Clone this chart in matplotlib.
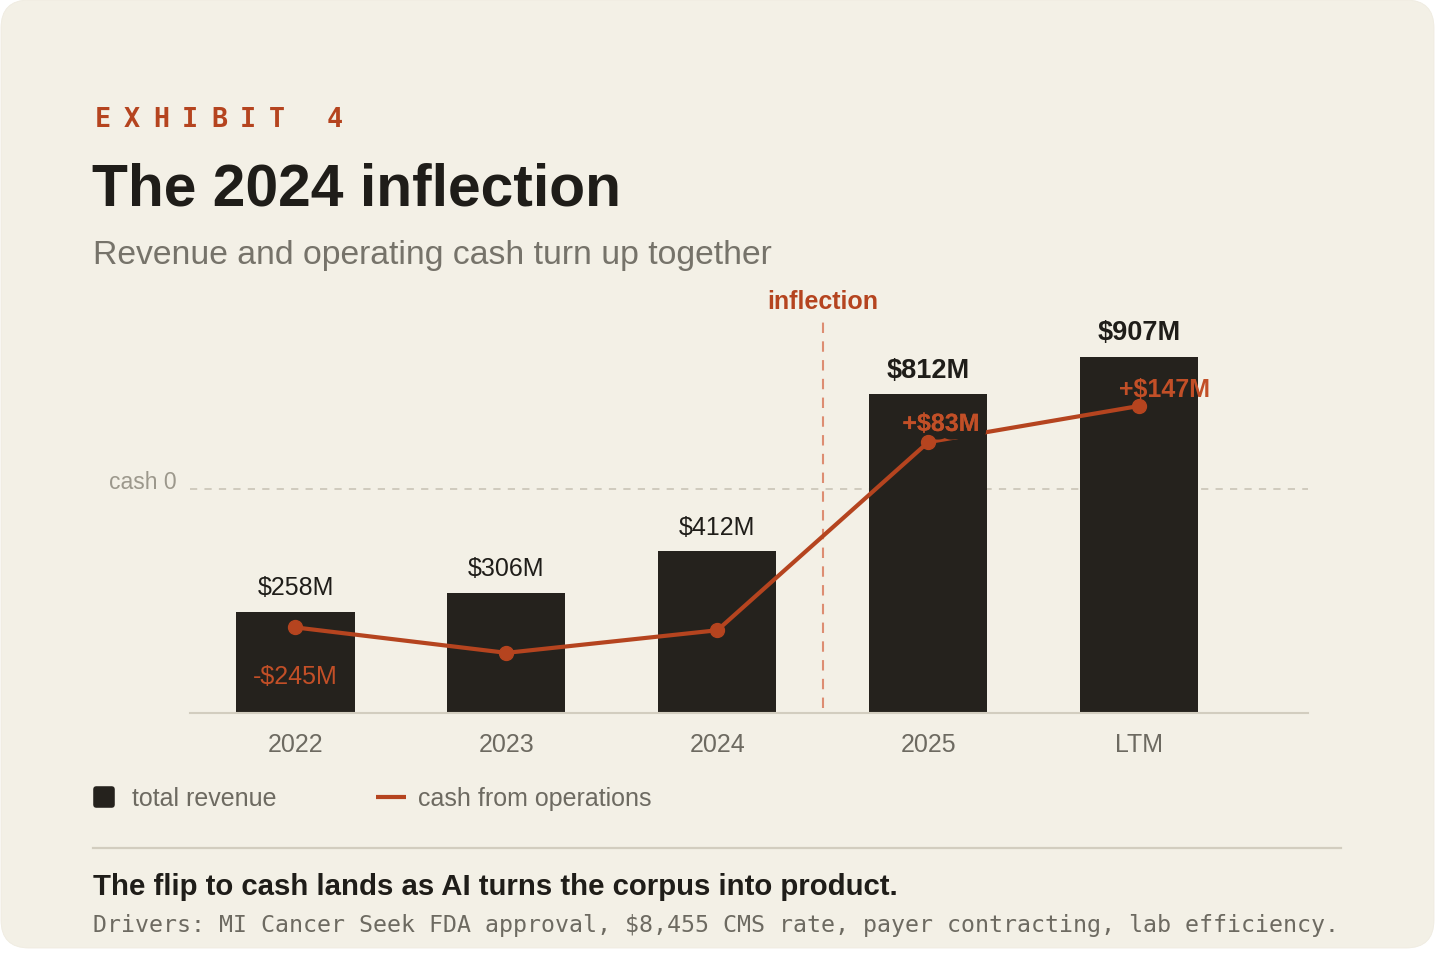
"""
Exhibit 4: revenue bars with operating cash line on a second scale.
"""
import matplotlib
matplotlib.use('Agg')
import matplotlib.pyplot as plt
from matplotlib.patches import FancyBboxPatch
from matplotlib.lines import Line2D
from matplotlib.markers import MarkerStyle
from matplotlib.transforms import blended_transform_factory
import matplotlib.patheffects as pe


###########  data  ###########

periods = ['2022', '2023', '2024', '2025', 'LTM']
revenue = [258, 306, 412, 812, 907]          # $M
cash_ops = [-245, -290, -250, 83, 147]       # $M, 2023/2024
revenue_labels = ['$258M', '$306M', '$412M', '$812M', '$907M']
cash_labels = ['-$245M', None, None, '+$83M', '+$147M']

###########  style  ###########

W, H = 1456, 971
BG = '#f3f0e6'
BAR = '#25221d'
ORANGE = '#b5441f'
ORANGE_LIGHT = '#dd8d72'
INK = '#1f1d19'
GREY = '#6d6a61'
GREY_LIGHT = '#9c988c'
RULE = '#d2cdbf'
SANS = 'Liberation Sans'
MONO = 'DejaVu Sans Mono'

plt.rcParams['font.family'] = [SANS, 'DejaVu Sans']

# label offsets in points (x, y), and which labels are bold
rev_bold = [False, False, False, True, True]
cash_offsets = [(0, -41), None, None, (9, 8), (18, 6.5)]
cash_bold = [False, None, None, True, True]

###########################################

fig = plt.figure(figsize=(W / 100, H / 100), dpi=100)
fig.patch.set_facecolor('white')

# background layer in pixel coordinates
bg = fig.add_axes([0, 0, 1, 1], zorder=0)
bg.set_xlim(0, W)
bg.set_ylim(H, 0)
bg.axis('off')
bg.add_patch(FancyBboxPatch((1, 0), 1433, 948,
                            boxstyle='round,pad=0,rounding_size=28',
                            facecolor=BG, edgecolor='#efebe0', linewidth=0.6))

# header
for i, ch in enumerate('EXHIBIT 4'):
    bg.text(95 + 29 * i, 127, ch, family=MONO, weight='bold', fontsize=19.3,
            color=ORANGE, va='baseline', ha='left')
bg.text(92.5, 205, 'The 2024 inflection', fontsize=42.3, weight='bold',
        color=INK, va='baseline')
bg.text(93, 264, 'Revenue and operating cash turn up together', fontsize=24.3,
        color='#76736a', va='baseline')

# footer
bg.plot([93, 1341], [848, 848], color=RULE, lw=1.6)
bg.text(93, 895, 'The flip to cash lands as AI turns the corpus into product.',
        fontsize=21.2, weight='bold', color=INK, va='baseline')
bg.text(93, 932, 'Drivers: MI Cancer Seek FDA approval, $8,455 CMS rate, '
        'payer contracting, lab efficiency.',
        family=MONO, fontsize=16.74, color=GREY, va='baseline')

###########  main chart  ###########

ax_top, ax_bot, ax_l, ax_r = 300, 713, 190, 1308
ax = fig.add_axes([ax_l / W, (H - ax_bot) / H, (ax_r - ax_l) / W,
                   (ax_bot - ax_top) / H], zorder=2)
ax.patch.set_alpha(0)
x = list(range(len(periods)))

bars = ax.bar(x, revenue, width=0.56, color=BAR, zorder=2)
ax.set_xlim(-0.5, 4.8)
ax.set_ylim(0, (ax_bot - ax_top) / 0.3925)

for xi, val, lab, bold in zip(x, revenue, revenue_labels, rev_bold):
    ax.annotate(lab, (xi, val), xytext=(0, 12), textcoords='offset points',
                ha='center', va='baseline', color=INK,
                fontsize=19.5 if bold else 18,
                weight='bold' if bold else 'normal')

for s in ['top', 'right', 'left']:
    ax.spines[s].set_visible(False)
ax.spines['bottom'].set_color(RULE)
ax.spines['bottom'].set_linewidth(1.5)
ax.set_yticks([])
ax.set_xticks(x, labels=periods)
ax.tick_params(axis='x', length=0, pad=14.5, labelsize=18, labelcolor=GREY)

# inflection marker between 2024 and 2025
ax.axvline(2.5, ymin=0.012, ymax=0.963, color=ORANGE_LIGHT, lw=1.5,
           linestyle=(0, (5, 4)), zorder=1)
ax.annotate('inflection', (2.5, 1), xycoords=('data', 'axes fraction'),
            xytext=(0, -6.5), textcoords='offset points', ha='center',
            va='baseline', color=ORANGE, fontsize=18, weight='bold')

# cash line on its own scale
ax2 = ax.twinx()
ax2.patch.set_alpha(0)
ax2.set_ylim(-(ax_bot - 489) / 0.565, (489 - ax_top) / 0.565)
ax2.axis('off')

# zero-cash rule sits behind the bars, so it lives in ax but uses ax2's scale
zero_tr = blended_transform_factory(ax.transAxes, ax2.transData)
ax.add_line(Line2D([0, 1], [0, 0], transform=zero_tr, color='#cdc8ba',
                   lw=1.3, linestyle=(0, (4, 4)), zorder=1))
ax.annotate('cash 0', (0, 0), xycoords=zero_tr,
            xytext=(-9.5, 0), textcoords='offset points', ha='right',
            va='baseline', color=GREY_LIGHT, fontsize=16.5,
            annotation_clip=False)

ax2.plot(x, cash_ops, color=ORANGE, lw=3, zorder=3)
for xi, val, lab, off, bold in zip(x, cash_ops, cash_labels, cash_offsets, cash_bold):
    if lab is None:
        continue
    t = ax2.annotate(lab, (xi, val), xytext=off, textcoords='offset points',
                     ha='center', va='baseline', color='#c24f27', fontsize=18,
                     weight='bold' if bold else 'normal', zorder=4)
    if lab == '+$83M':
        t.set_path_effects([pe.withStroke(linewidth=12, foreground=BAR), pe.Normal()])
ax2.plot(x, cash_ops, 'o', color=ORANGE, ms=10, zorder=5)

# legend
handles = [Line2D([], [], marker=MarkerStyle('s', joinstyle='round'), ls='none',
                  ms=12, mew=4, color=BAR),
           Line2D([], [], color=ORANGE, lw=3, solid_capstyle='butt')]
fig.legend(handles, ['total revenue', 'cash from operations'],
           loc='center left', bbox_to_anchor=(89 / W, 1 - 799 / H),
           ncol=2, frameon=False, fontsize=18, labelcolor=GREY,
           handlelength=1.2, handletextpad=0.5, columnspacing=4.0,
           borderpad=0, borderaxespad=0)

fig.savefig('out.png', dpi=100, facecolor='white')
